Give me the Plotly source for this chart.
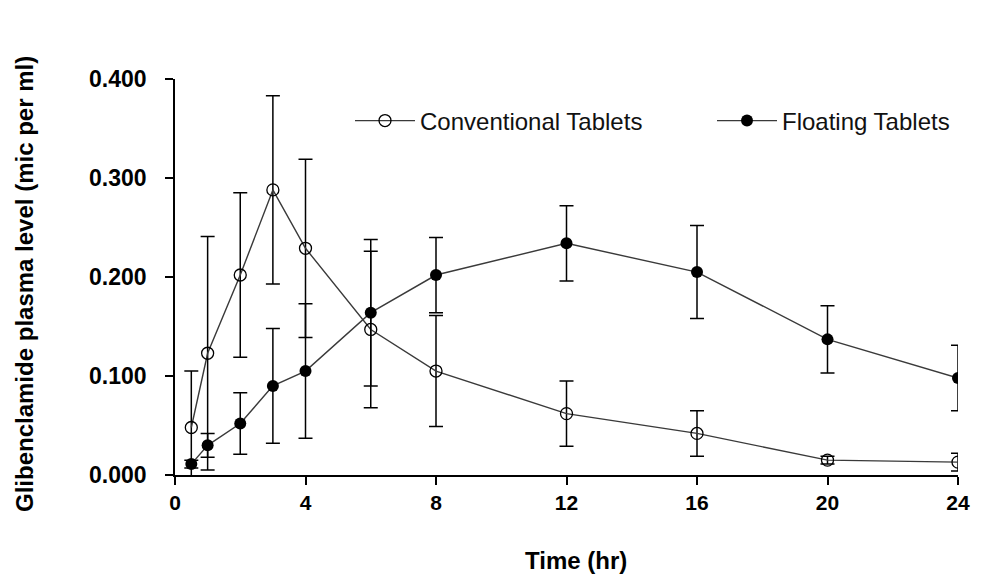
import plotly.graph_objects as go

time_h = [0.5, 1, 2, 3, 4, 6, 8, 12, 16, 20, 24]
conv_mean = [0.048, 0.123, 0.202, 0.288, 0.229, 0.147, 0.105, 0.062, 0.042, 0.015, 0.013]
conv_err = [0.057, 0.118, 0.083, 0.095, 0.090, 0.079, 0.056, 0.033, 0.023, 0.004, 0.009]
float_mean = [0.011, 0.030, 0.052, 0.090, 0.105, 0.164, 0.202, 0.234, 0.205, 0.137, 0.098]
float_err = [0.004, 0.012, 0.031, 0.058, 0.068, 0.074, 0.038, 0.038, 0.047, 0.034, 0.033]
x_ticks = [0, 4, 8, 12, 16, 20, 24]
y_ticks = [0.0, 0.1, 0.2, 0.3, 0.4]

FONT = "Liberation Sans, Arial, sans-serif"

fig = go.Figure()
fig.add_trace(go.Scatter(
    x=time_h, y=conv_mean, name="Conventional Tablets", mode="lines+markers",
    line=dict(color="#3a3a3a", width=1.4),
    marker=dict(symbol="circle-open", size=12, color="black", line=dict(width=1.3, color="black")),
    error_y=dict(type="data", array=conv_err, visible=True, color="black", thickness=1.5, width=7),
    cliponaxis=True,
))
fig.add_trace(go.Scatter(
    x=time_h, y=float_mean, name="Floating Tablets", mode="lines+markers",
    line=dict(color="#3a3a3a", width=1.4),
    marker=dict(symbol="circle", size=12, color="black"),
    error_y=dict(type="data", array=float_err, visible=True, color="black", thickness=1.5, width=7),
    cliponaxis=True,
))

fig.update_layout(
    width=981, height=575,
    margin=dict(l=175, r=23, t=79, b=100, autoexpand=False),
    paper_bgcolor="white", plot_bgcolor="white",
    font=dict(family=FONT, color="black"),
    showlegend=True,
    legend=dict(
        orientation="h", x=0.2235, y=0.894, xanchor="left", yanchor="middle",
        font=dict(size=24, family=FONT, color="#111"),
        bgcolor="rgba(0,0,0,0)", entrywidth=287, entrywidthmode="pixels",
        itemwidth=60,
    ),
    xaxis=dict(
        range=[0, 24], tickvals=x_ticks, ticktext=[str(v) for v in x_ticks],
        showline=True, linecolor="black", linewidth=1.5,
        ticks="outside", ticklen=8, tickwidth=1.5, tickcolor="black",
        showgrid=False, zeroline=False, automargin=False,
        tickfont=dict(size=21, family=FONT, weight="bold"),
        ticklabelstandoff=0,
    ),
    yaxis=dict(
        range=[0, 0.4], tickvals=y_ticks, tickformat=".3f",
        showline=True, linecolor="black", linewidth=1.5,
        ticks="outside", ticklen=8, tickwidth=1.5, tickcolor="black",
        showgrid=False, zeroline=False, automargin=False,
        tickfont=dict(size=23, family=FONT, weight="bold"),
        ticklabelstandoff=14,
    ),
    annotations=[
        dict(text="Time (hr)", xref="paper", yref="paper", x=0.5, y=0,
             xanchor="center", yanchor="middle", xshift=9, yshift=-85, showarrow=False,
             font=dict(size=24, family=FONT, weight="bold", color="black")),
        dict(text="Glibenclamide plasma level (mic per ml)", xref="paper", yref="paper",
             x=0, y=0.5, xanchor="center", yanchor="middle", xshift=-151, yshift=-7,
             textangle=-90, showarrow=False,
             font=dict(size=24, family=FONT, weight="bold", color="black")),
    ],
)

fig.write_html(
    "out.html",
    config={"displayModeBar": False},
    post_script="document.body.style.margin='0';document.body.style.overflow='hidden';",
)
